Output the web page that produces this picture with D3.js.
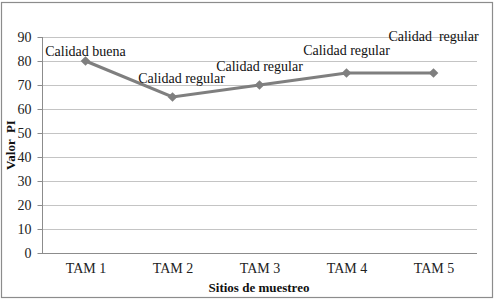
<!DOCTYPE html>
<html>
<head>
<meta charset="utf-8">
<script src="https://cdn.jsdelivr.net/npm/d3@7"></script>
<style>
  body { margin: 0; background: #fff; }
  svg text { font-family: "Liberation Serif", "DejaVu Serif", serif; }
</style>
</head>
<body>
<div id="graf"></div>
<script>
// datos
sitios = ['TAM 1', 'TAM 2', 'TAM 3', 'TAM 4', 'TAM 5']
valores = [80, 65, 70, 75, 75]
etiquetas = ['Calidad buena', 'Calidad regular', 'Calidad regular', 'Calidad regular', 'Calidad\u00a0 regular']
ticksY = [0, 10, 20, 30, 40, 50, 60, 70, 80, 90]

// configuración
ancho_total = 495
alto_total = 302
margins = { top: 37, left: 42, right: 18, bottom: 49 }
ancho = ancho_total - margins.left - margins.right
alto = alto_total - margins.top - margins.bottom

// desplazamiento de etiquetas (dx, dy) respecto al punto
desp = [[0, -5], [9, -14], [0, -14], [0, -18], [0, -32]]

svg = d3.select('#graf').append('svg')
  .attr('width', ancho_total)
  .attr('height', alto_total)

svg.append('rect')
  .attr('x', 1.5).attr('y', 2.5)
  .attr('width', 491).attr('height', 295)
  .attr('fill', 'none')
  .attr('stroke', '#8c8c8c')
  .attr('stroke-width', 1.2)

g = svg.append('g')
  .attr('transform', `translate(${margins.left},${margins.top})`)

x = d3.scalePoint().domain(sitios).range([0, ancho]).padding(0.5)
y = d3.scaleLinear().domain([0, 90]).range([alto, 0])

// grid
g.append('g')
  .selectAll('line')
  .data(ticksY)
  .join('line')
  .attr('x1', 0).attr('x2', ancho)
  .attr('y1', d => Math.round(y(d)) + 0.5)
  .attr('y2', d => Math.round(y(d)) + 0.5)
  .attr('stroke', d => d === 0 ? '#8c8c8c' : '#c4c4c4')
  .attr('stroke-width', 1)

// eje Y
yAxis = d3.axisLeft(y).tickValues(ticksY).tickSize(5).tickPadding(6)
ejeY = g.append('g')
  .attr('transform', 'translate(0.5,0)')
  .call(yAxis)
  .attr('font-family', null)
ejeY.select('.domain').attr('stroke', '#8c8c8c').attr('d', `M0,0V${alto}`)
ejeY.selectAll('.tick line').attr('stroke', '#8c8c8c')
ejeY.selectAll('.tick')
  .attr('transform', d => `translate(0,${Math.round(y(d)) + 0.5})`)
ejeY.selectAll('text')
  .attr('font-size', '14px')
  .attr('fill', '#222')

// eje X
xAxis = d3.axisBottom(x).tickSize(0).tickPadding(10)
ejeX = g.append('g')
  .attr('transform', `translate(0,${alto})`)
  .call(xAxis)
  .attr('font-family', null)
ejeX.select('.domain').remove()
ejeX.selectAll('text')
  .attr('font-size', '14px')
  .attr('fill', '#222')

// línea
linea = d3.line()
  .x((d, i) => x(sitios[i]))
  .y(d => y(d))

g.append('path')
  .datum(valores)
  .attr('d', linea)
  .attr('fill', 'none')
  .attr('stroke', '#7f7f7f')
  .attr('stroke-width', 3)

// marcadores rombo
g.selectAll('.punto')
  .data(valores)
  .join('path')
  .attr('class', 'punto')
  .attr('d', d3.symbol().type(d3.symbolDiamond2).size(60))
  .attr('transform', (d, i) => `translate(${x(sitios[i])},${y(d)})`)
  .attr('fill', '#7f7f7f')

// etiquetas
g.selectAll('.etiq')
  .data(valores)
  .join('text')
  .attr('class', 'etiq')
  .attr('x', (d, i) => x(sitios[i]) + desp[i][0])
  .attr('y', (d, i) => y(d) + desp[i][1])
  .attr('text-anchor', 'middle')
  .attr('font-size', '14px')
  .attr('fill', '#111')
  .style('white-space', 'pre')
  .text((d, i) => etiquetas[i])

// títulos
svg.append('text')
  .attr('transform', 'translate(15,145) rotate(-90)')
  .attr('text-anchor', 'middle')
  .attr('font-size', '13px')
  .attr('font-weight', 'bold')
  .attr('fill', '#111')
  .style('white-space', 'pre')
  .text('Valor  PI')

svg.append('text')
  .attr('x', 259)
  .attr('y', 292)
  .attr('text-anchor', 'middle')
  .attr('font-size', '13px')
  .attr('font-weight', 'bold')
  .attr('fill', '#111')
  .text('Sitios de muestreo')
</script>
</body>
</html>
